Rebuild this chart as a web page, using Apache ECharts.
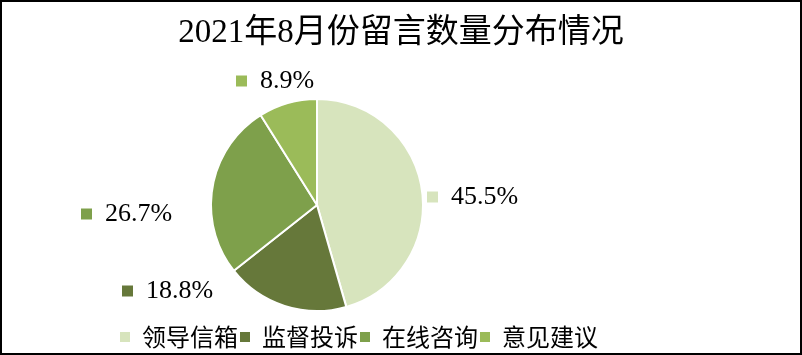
<!DOCTYPE html>
<html>
<head>
<meta charset="utf-8">
<script src="https://cdn.jsdelivr.net/npm/echarts@6/dist/echarts.min.js"></script>
<style>
    html, body { margin: 0; padding: 0; background: #fff; }
    #echarts { width: 802px; height: 355px; }
    #frame { position: absolute; left: 0; top: 0; width: 802px; height: 355px;
             box-sizing: border-box; border: 2px solid #000; pointer-events: none; }
</style>
</head>
<body>
<div id="echarts"></div>
<div id="frame"></div>
<script>
    /*数据*/
    var nameData = ["领导信箱", "监督投诉", "在线咨询", "意见建议"],
        numData = [45.5, 18.8, 26.7, 8.9];
    var colorData = ['#d7e4bd', '#66783a', '#7ea04b', '#9bbb59'];
    // 标签位置（仿照原图 Excel 最佳位置）
    var labelPos = [[427, 197], [122, 291], [81, 214], [236, 81]];

    var myChart = echarts.init(document.getElementById('echarts'));

    var rich = {
        t: { fontFamily: 'Liberation Serif', fontSize: 26, color: '#000', padding: [0, 0, 0, 13] }
    };
    colorData.forEach(function (c, i) {
        rich['k' + i] = { width: 11, height: 11, backgroundColor: c };
    });

    var option = {
        title: {
            text: '2021年8月份留言数量分布情况',
            left: 'center',
            top: 12,
            textStyle: {
                fontFamily: 'Liberation Serif, Noto Sans CJK SC',
                fontSize: 33,
                fontWeight: 'normal',
                color: '#000'
            }
        },
        color: colorData,
        legend: {
            left: 113,
            top: 320,
            itemWidth: 12,
            itemHeight: 12,
            itemGap: 0,
            icon: 'rect',
            data: nameData,
            textStyle: {
                fontFamily: 'Noto Sans CJK SC',
                fontSize: 24,
                color: '#000',
                padding: [0, 0, 0, 6]
            }
        },
        series: [{
            type: 'pie',
            center: [317, 205],
            radius: 106,
            startAngle: 90,
            clockwise: true,
            itemStyle: { borderColor: '#fff', borderWidth: 2 },
            label: {
                show: true,
                position: 'outside',
                formatter: function (p) {
                    return '{k' + p.dataIndex + '|}{t|' + p.value + '%}';
                },
                rich: rich
            },
            labelLine: { show: false },
            labelLayout: function (p) {
                return {
                    x: labelPos[p.dataIndex][0],
                    y: labelPos[p.dataIndex][1],
                    align: 'left',
                    verticalAlign: 'middle'
                };
            },
            data: nameData.map(function (n, i) {
                return { name: n, value: numData[i] };
            })
        }]
    };

    myChart.setOption(option);
</script>
</body>
</html>
